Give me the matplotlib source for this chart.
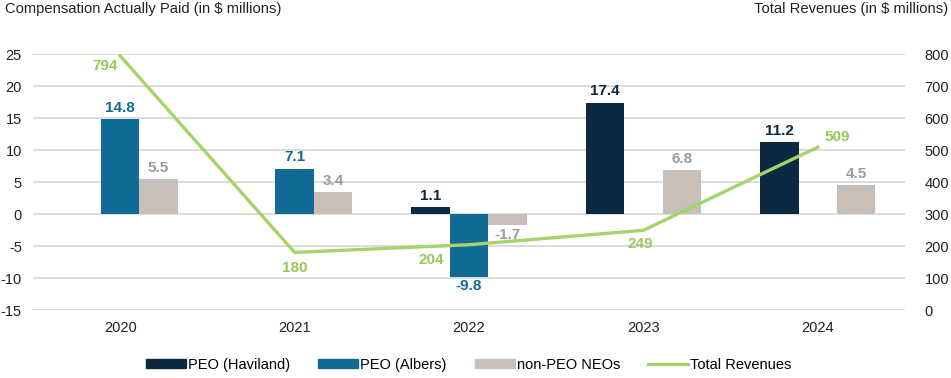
import numpy as np
import matplotlib.pyplot as plt
from matplotlib.patches import Patch
from matplotlib.lines import Line2D

plt.rcParams['font.family'] = ['Liberation Sans', 'DejaVu Sans']
plt.rcParams['axes.unicode_minus'] = False

years = ['2020', '2021', '2022', '2023', '2024']
haviland = [np.nan, np.nan, 1.1, 17.4, 11.2]
albers = [14.8, 7.1, -9.8, np.nan, np.nan]
non_peo = [5.5, 3.4, -1.7, 6.8, 4.5]
revenues = [794, 180, 204, 249, 509]

c_hav = '#0b2941'
c_alb = '#126b94'
c_neo = '#c8c0b8'
c_rev = '#a6d46c'
lbl_neo = '#a09a94'
lbl_rev = '#96c95a'

# offsets (points) for the revenue labels
rev_offsets = [(-11, -7), (0, -11), (-27, -11), (-2, -10), (14, 7)]

fig = plt.figure(figsize=(9.51, 3.78), dpi=100)
ax = fig.add_axes([33 / 951, 68 / 378, 872 / 951, 256 / 378])
x = np.arange(len(years))
w = 0.22

series = [(haviland, -w, c_hav, c_hav), (albers, 0, c_alb, c_alb), (non_peo, w, c_neo, lbl_neo)]
for vals, off, col, lcol in series:
    ax.bar(x + off, vals, w, color=col, zorder=2)
    for xi, v in zip(x, vals):
        if np.isnan(v):
            continue
        if v >= 0:
            ax.annotate(f'{v:.1f}', (xi + off, v), xytext=(0, 3), textcoords='offset points',
                        ha='center', va='bottom', fontsize=11, fontweight='bold', color=lcol)
        else:
            ax.annotate(f'{v:.1f}', (xi + off, v), xytext=(0, -2), textcoords='offset points',
                        ha='center', va='top', fontsize=11, fontweight='bold', color=lcol)

ax.set_xlim(-0.5, len(years) - 0.5)
ax.set_ylim(-15, 25)
ax.set_yticks(range(-15, 26, 5))
ax.set_xticks(x)
ax.set_xticklabels(years)
ax.grid(axis='y', color='#dcdcdc', linewidth=1.4, zorder=0)
ax.set_axisbelow(True)
for s in ax.spines.values():
    s.set_visible(False)
ax.tick_params(axis='y', length=0, pad=8, labelsize=10.5, labelcolor='#222222')
ax.tick_params(axis='x', length=0, pad=8, labelsize=10.5, labelcolor='#222222')

ax2 = ax.twinx()
ax2.plot(x, revenues, color=c_rev, linewidth=2.4, zorder=3, clip_on=False)
for xi, v, off in zip(x, revenues, rev_offsets):
    ax2.annotate(str(v), (xi, v), xytext=off, textcoords='offset points',
                 ha='center', va='center', fontsize=11, fontweight='bold', color=lbl_rev)
ax2.set_ylim(0, 800)
ax2.set_yticks(range(0, 801, 100))
for s in ax2.spines.values():
    s.set_visible(False)
ax2.tick_params(axis='y', length=0, pad=14, labelsize=10.5, labelcolor='#222222')

fig.text(5 / 951, 1 - 2 / 378, 'Compensation Actually Paid (in $ millions)', ha='left', va='top',
         fontsize=10.6, color='#222222')
fig.text(948 / 951, 1 - 2 / 378, 'Total Revenues (in $ millions)', ha='right', va='top',
         fontsize=10.6, color='#222222')

handles = [Patch(color=c_hav), Patch(color=c_alb), Patch(color=c_neo),
           Line2D([0], [0], color=c_rev, linewidth=2.4)]
labels = ['PEO (Haviland)', 'PEO (Albers)', 'non-PEO NEOs', 'Total Revenues']
fig.legend(handles, labels, ncol=4, loc='center', bbox_to_anchor=(0.493, 13 / 378),
           frameon=False, fontsize=10.5, handlelength=2.75, handleheight=0.6,
           columnspacing=1.9, handletextpad=0.15)

fig.savefig('out.png', dpi=100)
